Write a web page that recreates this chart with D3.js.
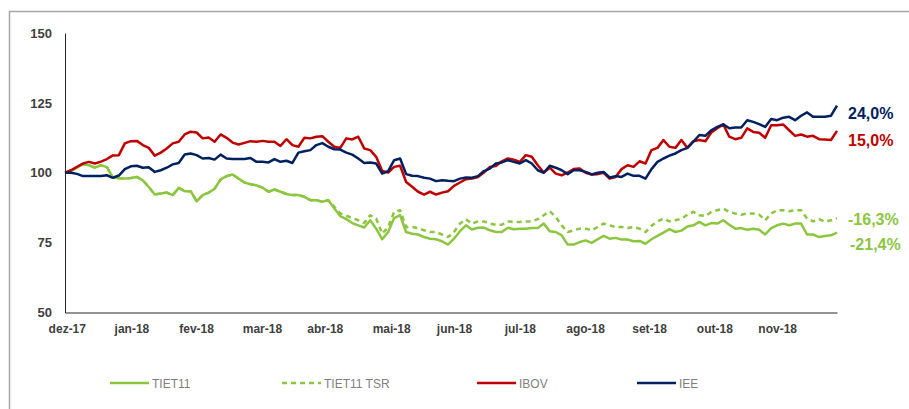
<!DOCTYPE html>
<html>
<head>
<meta charset="utf-8">
<script src="https://cdn.jsdelivr.net/npm/d3@7"></script>
<style>
  body { margin: 0; background: #fff; }
  svg { display: block; }
</style>
</head>
<body>
<svg width="909" height="409"></svg>
<script>
// month labels and where they sit along the point index
const monthLabels = ["dez-17", "jan-18", "fev-18", "mar-18", "abr-18", "mai-18",
  "jun-18", "jul-18", "ago-18", "set-18", "out-18", "nov-18"];
const monthPos = [0.3, 11.1, 21.9, 32.9, 43.4, 54.5, 65.0, 76.0, 86.9, 97.6, 108.5, 119.0];
const yTicks = [50, 75, 100, 125, 150];

// series (base 100)
const tiet11 = [
  100, 100.6, 101.9, 103.0, 102.7, 101.8, 102.7, 102.0, 98.3, 98.0, 97.9, 98.1, 98.5, 97.3, 94.9, 92.2, 92.6, 92.9, 92.0, 94.6, 93.4, 93.4,
  89.8, 92.0, 92.9, 94.3, 97.6, 98.8, 99.4, 97.9, 96.5, 95.9, 95.5, 94.7, 93.2, 94.0, 93.2, 92.4, 92.0, 92.0, 91.4, 90.2, 90.2, 89.6,
  90.2, 87.2, 84.5, 83.4, 82.0, 81.2, 80.4, 83.0, 80.0, 76.2, 78.8, 83.8, 84.8, 78.8, 78.2, 77.9, 77.0, 76.4, 76.2, 75.5, 74.3,
  76.4, 79.1, 81.2, 79.7, 80.3, 80.4, 79.4, 78.8, 78.8, 80.3, 79.8, 80.0, 80.0, 80.2, 80.2, 81.8, 79.1, 78.8, 77.6, 74.3, 74.3, 75.2,
  75.8, 74.9, 76.2, 77.4, 76.4, 76.7, 76.1, 76.1, 75.5, 75.6, 74.6, 76.2, 77.4, 78.6, 79.8, 78.8, 79.3, 80.8, 81.2, 82.4, 81.2, 82.0,
  81.8, 83.0, 81.4, 80.0, 80.2, 79.6, 80.0, 79.6, 77.9, 80.2, 81.2, 81.8, 81.2, 81.8, 81.8, 77.9, 77.9, 77.0, 77.4, 77.6, 78.6
];
const tiet11Tsr = [
  100, 100.6, 101.9, 103.0, 102.7, 101.8, 102.7, 102.0, 98.3, 98.0, 97.9, 98.1, 98.5, 97.3, 94.9, 92.2, 92.6, 92.9, 92.0, 94.6, 93.4, 93.4,
  89.8, 92.0, 92.9, 94.3, 97.6, 98.8, 99.4, 97.9, 96.5, 95.9, 95.5, 94.7, 93.2, 94.0, 93.2, 92.4, 92.0, 92.0, 91.4, 90.2, 90.2, 89.6,
  90.2, 87.8, 85.5, 84.6, 83.8, 83.0, 82.0, 84.8, 83.6, 78.2, 80.6, 86.0, 86.6, 80.6, 80.6, 80.2, 79.4, 78.8, 78.8, 77.9, 77.0,
  78.8, 81.8, 83.4, 81.8, 82.6, 82.6, 81.8, 81.4, 81.4, 82.6, 82.4, 82.4, 82.6, 82.6, 83.4, 84.8, 86.2, 84.2, 81.2, 78.8, 79.4, 80.0,
  80.0, 79.4, 80.6, 81.8, 81.2, 80.6, 80.6, 80.2, 80.6, 80.0, 78.8, 81.0, 82.6, 83.6, 82.6, 83.0, 83.6, 85.0, 86.0, 84.8, 84.5, 86.0,
  86.6, 87.2, 86.0, 85.4, 85.0, 85.4, 85.4, 85.0, 83.0, 85.4, 86.6, 86.6, 86.2, 86.6, 86.6, 83.6, 82.6, 83.4, 82.4, 83.0, 83.7
];
const ibov = [
  100, 100.9, 102.1, 103.3, 103.9, 103.3, 104.0, 104.9, 106.2, 106.3, 110.5, 111.3, 111.4, 109.9, 108.9, 106.1, 107.2, 108.7, 110.5, 111.1, 113.7, 114.7,
  114.4, 112.3, 112.6, 111.1, 113.7, 112.5, 110.8, 110.1, 110.7, 111.3, 111.1, 111.4, 111.1, 111.1, 109.6, 112.0, 109.9, 109.3, 112.5, 112.3, 112.9, 113.1,
  111.1, 109.3, 108.9, 112.3, 111.9, 112.9, 108.7, 108.1, 105.7, 100.6, 100.1, 102.1, 102.5, 96.7, 95.0, 93.2, 92.2, 93.2, 92.2, 92.9, 93.4,
  95.3, 96.5, 97.7, 97.9, 98.5, 100.1, 102.1, 102.4, 104.1, 105.1, 104.7, 103.9, 106.3, 105.7, 102.7, 100.1, 101.8, 99.7, 99.1, 100.1, 101.3, 101.5,
  100.0, 99.4, 99.5, 100.0, 97.9, 98.5, 101.3, 102.7, 102.1, 104.1, 103.3, 108.1, 108.9, 111.7, 109.3, 108.9, 111.7, 108.9, 111.3, 111.7, 111.3, 114.4,
  115.9, 117.3, 112.9, 112.0, 112.5, 115.9, 114.6, 114.3, 112.5, 117.0, 117.0, 117.3, 115.2, 113.2, 113.7, 112.9, 113.2, 112.0, 111.9, 111.7, 115.0
];
const iee = [
  100, 100, 99.6, 98.8, 98.8, 98.8, 98.8, 99.1, 98.2, 99.0, 101.3, 102.3, 102.5, 101.8, 102.0, 100.3, 100.9, 101.8, 103.0, 103.5, 106.5, 106.9,
  106.3, 105.1, 105.3, 104.7, 106.5, 105.1, 104.9, 104.9, 104.9, 105.3, 103.9, 103.9, 103.7, 104.9, 103.9, 104.3, 103.5, 107.2, 107.7, 108.1, 109.9, 110.6,
  109.3, 108.4, 108.3, 107.2, 106.5, 105.1, 103.5, 103.7, 103.3, 99.7, 100.6, 104.5, 105.1, 99.5, 98.9, 98.8, 98.2, 97.9, 97.0, 97.3, 97.1,
  97.0, 97.9, 98.3, 98.2, 98.8, 100.6, 101.5, 103.3, 103.7, 104.5, 103.9, 103.3, 104.5, 103.3, 100.9, 100.0, 102.5, 101.8, 100.9, 99.5, 100.9, 100.9,
  100.3, 99.4, 100.0, 100.3, 98.3, 98.8, 98.5, 99.7, 98.9, 98.9, 97.9, 101.3, 103.9, 105.1, 106.1, 106.9, 108.1, 108.9, 111.1, 113.5, 113.2, 115.2,
  116.4, 117.3, 115.9, 116.2, 116.2, 118.8, 118.2, 117.4, 116.4, 119.2, 118.8, 119.7, 120.0, 118.8, 120.4, 121.6, 120.0, 120.0, 120.0, 120.4, 124.0
];

const seriesNames = ["TIET11", "TIET11 TSR", "IBOV", "IEE"];
const seriesColors = ["#8cc63f", "#8cc63f", "#c00000", "#002060"];
const endLabels = ["-21,4%", "-16,3%", "15,0%", "24,0%"];

const font = "Liberation Sans, Arial, sans-serif";
const svg = d3.select("svg").attr("font-family", font);
const margin = { top: 33, right: 72, bottom: 97, left: 65 };
const width = +svg.attr("width");
const height = +svg.attr("height");
const innerWidth = width - margin.left - margin.right;
const innerHeight = height - margin.top - margin.bottom + 0.5;

// outer frame (left and top edges only show in the picture)
svg.append("path")
  .attr("d", `M9.5,${height} V11.5 H${width}`)
  .attr("fill", "none")
  .attr("stroke", "#a6a6a6")
  .attr("stroke-width", 1.5);

const data = [tiet11, tiet11Tsr, ibov, iee].map((values, i) => ({
  name: seriesNames[i],
  color: seriesColors[i],
  dashed: i === 1,
  label: endLabels[i],
  values: values
}));

const xScale = d3.scaleLinear().domain([0, tiet11.length - 1]).range([0, innerWidth]);
const yScale = d3.scaleLinear().domain([50, 150]).range([innerHeight, 0]);

const g = svg.append("g").attr("transform", `translate(${margin.left}, ${margin.top})`);

// y axis (no tick marks in the picture)
const yAxisG = g.append("g")
  .call(d3.axisLeft(yScale).tickValues(yTicks).tickSize(0).tickPadding(13))
  .attr("font-family", font)
  .attr("font-size", 13);
yAxisG.select(".domain").attr("stroke", "#262626");
yAxisG.selectAll(".tick line").remove();
yAxisG.selectAll("text")
  .attr("font-size", 13)
  .attr("font-weight", "bold")
  .attr("fill", "#404040");

// x axis
const xAxisG = g.append("g")
  .attr("transform", `translate(0, ${innerHeight})`)
  .call(d3.axisBottom(xScale)
    .tickValues(monthPos)
    .tickFormat((d, i) => monthLabels[i])
    .tickSize(0)
    .tickPadding(12))
  .attr("font-family", font)
  .attr("font-size", 12);
xAxisG.select(".domain").attr("stroke", "#262626");
xAxisG.selectAll(".tick line").remove();
xAxisG.selectAll("text")
  .attr("font-size", 12)
  .attr("font-weight", "bold")
  .attr("fill", "#404040");

const line = d3.line()
  .x((d, i) => xScale(i))
  .y((d) => yScale(d));

g.selectAll(".series")
  .data(data)
  .enter()
  .append("path")
  .attr("class", "series")
  .attr("d", (d) => line(d.values))
  .attr("fill", "none")
  .attr("stroke", (d) => d.color)
  .attr("stroke-width", 2.5)
  .attr("stroke-dasharray", (d) => (d.dashed ? "5,4" : null))
  .attr("stroke-linejoin", "round");

// end of line labels
const labelDy = [17.5, 7, 15, 13.5];
g.selectAll(".endlabel")
  .data(data)
  .enter()
  .append("text")
  .attr("class", "endlabel")
  .attr("x", (d, i) => innerWidth + (i === 0 ? 13 : 11))
  .attr("y", (d, i) => yScale(d.values[d.values.length - 1]) + labelDy[i])
  .attr("font-size", 16)
  .attr("font-weight", "bold")
  .attr("fill", (d) => d.color)
  .text((d) => d.label);

// legend: swatches and names kept in separate groups
const legendX = [110, 282, 477, 637];
const legendY = 383;

svg.append("g").attr("class", "legend-keys")
  .selectAll("line")
  .data(data)
  .enter()
  .append("line")
  .attr("x1", (d, i) => legendX[i])
  .attr("x2", (d, i) => legendX[i] + 39)
  .attr("y1", legendY)
  .attr("y2", legendY)
  .attr("stroke", (d) => d.color)
  .attr("stroke-width", 2.5)
  .attr("stroke-dasharray", (d) => (d.dashed ? "5,4" : null));

svg.append("g").attr("class", "legend-names")
  .selectAll("text")
  .data(data)
  .enter()
  .append("text")
  .attr("x", (d, i) => legendX[i] + 42)
  .attr("y", legendY + 4.5)
  .attr("font-size", 12)
  .attr("fill", "#7f7f7f")
  .text((d) => d.name);
</script>
</body>
</html>
